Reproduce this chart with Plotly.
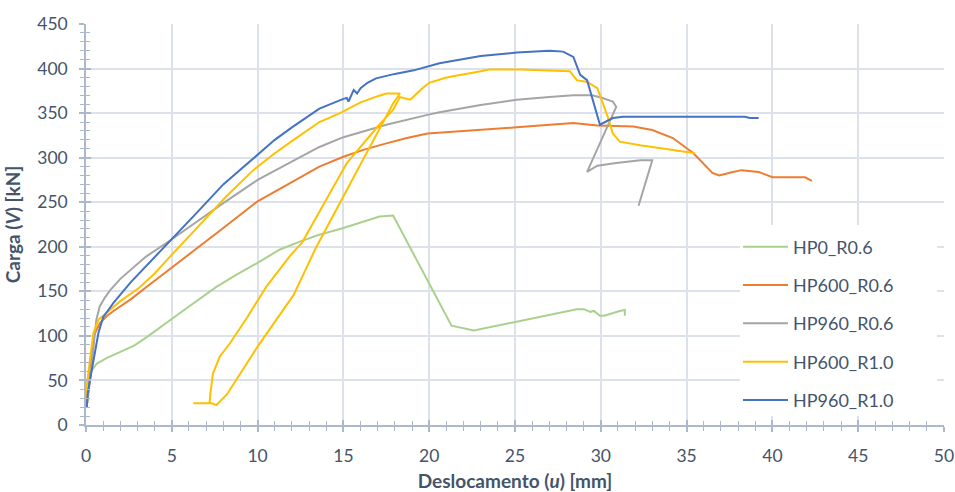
import plotly.graph_objects as go

# Load-displacement curves (u in mm, V in kN)
hp0_r06_u = [0.04, 0.15, 0.3, 0.63, 1.2, 2.0, 2.8, 3.5, 4.9, 6.0, 7.6, 8.8, 10.0, 11.3, 12.5, 13.5,
             15.0, 16.2, 17.1, 17.9, 21.3, 22.6, 24.9, 27.2, 28.6, 29.0, 29.4, 29.6, 29.95, 30.2,
             30.7, 31.1, 31.4, 31.4]
hp0_r06_v = [20, 40, 60, 69, 75, 82, 89, 98, 118, 133, 155, 169, 182, 197, 206, 213,
             221, 228, 234, 235, 111.5, 106, 115.5, 124.5, 130, 130, 127, 128, 122.6, 122.6,
             126, 128, 129, 122.6]

hp600_r06_u = [0.04, 0.2, 0.43, 0.8, 1.2, 1.6, 2.6, 3.6, 4.7, 6.5, 8.0, 10.0, 12.0, 13.6, 15.0, 16.2,
               17.5, 18.7, 19.9, 23.0, 25.1, 28.4, 29.8, 31.9, 33.0, 34.2, 35.4, 36.5, 36.9, 37.7,
               38.2, 39.2, 40.0, 41.9, 42.3]
hp600_r06_v = [20, 50, 99, 114, 122, 128, 141, 156, 172, 199, 221, 251, 273, 290, 301, 309,
               316, 322, 327, 331, 334, 339, 336, 335, 331, 322, 305, 283, 280, 284,
               286, 284, 278, 278, 274]

hp960_r06_u = [0.04, 0.2, 0.4, 0.6, 0.8, 1.1, 1.4, 2.0, 2.6, 3.5, 4.9, 6.6, 8.0, 10.0, 12.0, 13.6,
               15.0, 17.5, 19.9, 20.6, 23.0, 25.1, 27.0, 28.4, 29.5, 30.1, 30.7, 30.9, 29.2,
               29.8, 30.9, 32.3, 33.0, 32.2]
hp960_r06_v = [20, 45, 80, 118, 133, 143, 151, 164, 174, 189, 207, 230, 249, 275, 296, 312,
               323, 337, 348, 351, 359, 365, 368, 370, 370, 367, 363, 357, 284,
               291, 294, 297, 297, 246]

hp600_r10_u = [0.0, 0.04, 0.23, 0.43, 0.72, 1.2, 2.0, 3.1, 4.0, 4.9, 6.8, 8.2, 9.75, 11.0, 12.1, 13.6,
               14.8, 16.0, 17.0, 17.5, 18.3, 17.9, 13.4, 12.1, 10.0, 8.2, 7.6, 7.3, 6.25, 7.2, 7.25,
               7.4, 7.8, 8.4, 9.4, 10.5, 11.9, 12.6, 15.2, 17.0, 17.9, 18.3, 18.9, 19.6, 20.0,
               21.0, 23.0, 23.5, 25.3, 28.2, 28.6, 29.2, 29.8, 30.4, 30.7, 31.1, 32.3, 33.4,
               34.6, 35.5]
hp600_r10_v = [20, 43, 73, 103, 118, 126, 139, 154, 170, 189, 228, 257, 286, 305, 320, 340,
               350, 362, 369, 372, 372, 361, 199, 146, 88, 34, 22.4, 24.3, 24.3, 24.3, 36,
               58, 77, 92, 121, 155, 190, 205, 294, 335, 354, 368, 365, 378, 384,
               390, 397, 399, 399, 397, 387, 385, 378, 346, 327, 318, 314, 311,
               307, 305]

hp960_r10_u = [0.04, 0.1, 0.23, 0.43, 0.72, 1.0, 1.6, 2.6, 3.5, 4.9, 6.45, 8.0, 10.0, 11.0, 12.0,
               13.6, 15.0, 15.2, 15.3, 15.6, 15.8, 16.0, 16.4, 16.9, 18.0, 19.1, 20.6, 23.0,
               25.1, 27.0, 27.8, 28.4, 28.8, 29.2, 29.95, 30.7, 31.3, 35.0, 38.4, 38.7, 39.2]
hp960_r10_v = [20, 35, 50, 73, 103, 121, 137, 160, 178, 206, 238, 270, 304, 320, 334,
               355, 366, 367, 363, 376, 372, 378, 384, 389, 394, 398, 406, 414,
               418, 420, 419, 413, 393, 387, 337, 344.5, 346, 346, 346, 344.5, 344.5]

series = [
    ("HP0_R0.6", hp0_r06_u, hp0_r06_v, "#a9d18e"),
    ("HP600_R0.6", hp600_r06_u, hp600_r06_v, "#ed7d31"),
    ("HP960_R0.6", hp960_r06_u, hp960_r06_v, "#a5a5a5"),
    ("HP600_R1.0", hp600_r10_u, hp600_r10_v, "#ffc000"),
    ("HP960_R1.0", hp960_r10_u, hp960_r10_v, "#4472c4"),
]

TEXT = "#44546a"
AXIS = "#adb9ca"
GRID = "#dde2ea"
FONT = "Lato"

# plot area in pixels (used to place the legend box in paper units)
L, R, T, B = 86, 944, 24, 425


def px(xp):
    return (xp - L) / (R - L)


def py(yp):
    return (B - yp) / (B - T)


fig = go.Figure()
for name, u, v, color in series:
    fig.add_trace(go.Scatter(
        x=u, y=v, mode="lines", name=name, showlegend=False,
        line=dict(color=color, width=2),
    ))

# empty traces so the overlay axes (inner half of the crossing ticks) get drawn
fig.add_trace(go.Scatter(x=[], y=[], xaxis="x2", yaxis="y", showlegend=False, hoverinfo="skip"))
fig.add_trace(go.Scatter(x=[], y=[], xaxis="x", yaxis="y2", showlegend=False, hoverinfo="skip"))

# legend: white box with a line sample and label per series
shapes = [dict(type="rect", xref="paper", yref="paper", layer="above",
               x0=px(740), x1=px(937), y0=py(416), y1=py(225),
               fillcolor="white", line=dict(width=0))]
annotations = []
row_y = [246.7, 285.0, 323.3, 361.7, 400.0]
for (name, _, _, color), yp in zip(series, row_y):
    shapes.append(dict(type="line", xref="paper", yref="paper", layer="above",
                       x0=px(743), x1=px(788), y0=py(yp), y1=py(yp),
                       line=dict(color=color, width=2)))
    annotations.append(dict(xref="paper", yref="paper", x=px(791), y=py(yp),
                            xanchor="left", yanchor="middle", showarrow=False,
                            text=name, font=dict(family=FONT, size=18, color=TEXT)))

tick_common = dict(tickcolor=AXIS, tickwidth=1.5, ticklen=5)

fig.update_layout(
    width=955, height=492,
    margin=dict(l=L, r=955 - R, t=T, b=492 - B),
    paper_bgcolor="white", plot_bgcolor="white",
    font=dict(family=FONT, color=TEXT, size=17),
    showlegend=False,
    shapes=shapes,
    annotations=annotations,
    xaxis=dict(
        range=[0, 50], dtick=5, tick0=0, automargin=False,
        showgrid=True, gridcolor=GRID, gridwidth=1.5, zeroline=False,
        showline=True, linecolor=AXIS, linewidth=1.5,
        ticks="outside", **tick_common,
        minor=dict(dtick=1, ticks="outside", ticklen=4, tickwidth=1.2, tickcolor=AXIS, showgrid=False),
        tickfont=dict(family=FONT, size=17.5, color=TEXT),
        ticklabelstandoff=9,
        title=dict(text="<b>Deslocamento (<i>u</i>) [mm]</b>",
                   font=dict(family=FONT, size=19, color=TEXT), standoff=12),
    ),
    xaxis2=dict(
        range=[0, 50], dtick=5, tick0=0, overlaying="x", anchor="y", side="bottom",
        showgrid=False, zeroline=False, showline=False, showticklabels=False,
        ticks="inside", **tick_common,
        minor=dict(dtick=1, ticks="inside", ticklen=4, tickwidth=1.2, tickcolor=AXIS, showgrid=False),
    ),
    yaxis=dict(
        range=[0, 450], dtick=50, tick0=0, automargin=False,
        showgrid=True, gridcolor=GRID, gridwidth=1.5, zeroline=False,
        showline=True, linecolor=AXIS, linewidth=1.5,
        ticks="outside", **tick_common,
        minor=dict(dtick=10, ticks="outside", ticklen=4, tickwidth=1.2, tickcolor=AXIS, showgrid=False),
        tickfont=dict(family=FONT, size=17.5, color=TEXT),
        ticklabelstandoff=8,
        title=dict(text="<b>Carga (<i>V</i>) [kN]</b>",
                   font=dict(family=FONT, size=19, color=TEXT), standoff=12),
    ),
    yaxis2=dict(
        range=[0, 450], dtick=50, tick0=0, overlaying="y", anchor="x", side="left",
        showgrid=False, zeroline=False, showline=False, showticklabels=False,
        ticks="inside", **tick_common,
        minor=dict(dtick=10, ticks="inside", ticklen=4, tickwidth=1.2, tickcolor=AXIS, showgrid=False),
    ),
)

fig.write_html("out.html")
